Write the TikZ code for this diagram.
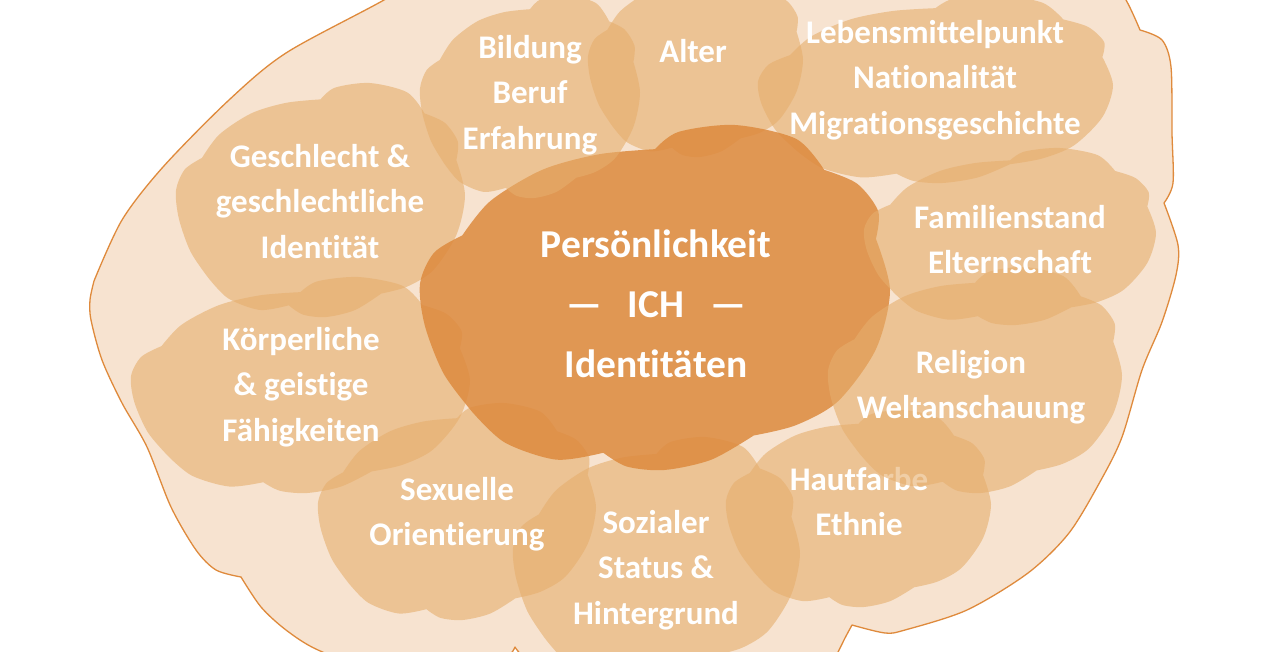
\documentclass[tikz,border=0pt]{standalone}
\usepackage{fontspec}
\setmainfont[Ligatures=NoCommon]{Carlito}
\definecolor{peach}{HTML}{F7E3D0}
\definecolor{edgec}{HTML}{DF8A3C}
\definecolor{cloudc}{HTML}{E6AE6C}
\definecolor{corec}{HTML}{DD8A3E}
\newcommand\lblfont{\fontsize{33}{45.5}\selectfont\bfseries}
\newcommand\corefont{\fontsize{39.5}{60}\selectfont\bfseries}
% soft cloud: x0 y0 (top-left), w/100, h/100, style
\newcommand\softcloud[5]{%
\begin{scope}[shift={(#1,#2)},x=#3pt,y=-#4pt]
\fill[#5] plot[smooth] coordinates {(9,32) (15,22) (26,13) (38,8.5) (50,7)}
 -- plot[smooth] coordinates {(50,7) (55,2) (67,0) (80,4) (86,13)}
 -- plot[smooth] coordinates {(86,13) (93,17) (97.5,25) (97,33)}
 -- plot[smooth] coordinates {(97,33) (100,48) (97,65) (89,80) (80,87) (71,90)}
 -- plot[smooth] coordinates {(71,90) (62,97) (52,100) (44,99) (39,95)}
 -- plot[smooth] coordinates {(39,95) (29,97) (18,92) (11,83)}
 -- plot[smooth] coordinates {(11,83) (5,72) (1,58) (0,46) (3,37) (9,32)}
 -- cycle;
\end{scope}}
\tikzset{
  cloudfill/.style={fill=cloudc, fill opacity=0.6},
  corefill/.style={fill=corec, fill opacity=0.85},
  lbl/.style={text=white, font=\lblfont, align=center, inner sep=0pt, anchor=north},
  corelbl/.style={text=white, font=\corefont, align=center, inner sep=0pt, anchor=north},
}
\begin{document}
\begin{tikzpicture}[x=1pt,y=-1pt]
\useasboundingbox (0,0) rectangle (1280,652);
\fill[white] (0,0) rectangle (1280,652);
\clip (0,0) rectangle (1280,652);
% outer blob
\filldraw[fill=peach, draw=edgec, line width=1.3pt, line join=round]
  plot[smooth] coordinates {(450,-40) (384,0) (286,53) (229,100) (163,167) (122,220) (94,281)}
  -- plot[smooth] coordinates {(94,281) (90,300) (91,320) (102,360) (122,403) (147,447) (171,507) (196,550) (216,570) (241,577)}
  -- plot[smooth] coordinates {(241,577) (261,607) (286,630) (318,650) (380,672) (460,675) (505,658) (515,647)}
  -- plot[smooth] coordinates {(515,647) (540,665) (650,690) (780,685) (830,665) (838,652) (845,638) (852,625)}
  -- plot[smooth] coordinates {(852,625) (885,633) (905,630) (967,610) (1028,573) (1069,533) (1101,480) (1122,437) (1142,370) (1162,322) (1176,275) (1178,245) (1164,203)}
  -- plot[smooth] coordinates {(1164,203) (1173,183) (1172,133) (1171,67) (1162,40) (1140,30)}
  -- plot[smooth] coordinates {(1140,30) (1126,0) (1100,-40)}
  -- cycle;
% back clouds
\softcloud{758}{-5}{3.55}{1.88}{cloudfill}
\softcloud{588}{-30}{2.15}{1.87}{cloudfill}
\softcloud{176}{83}{2.89}{2.34}{cloudfill}
\softcloud{131}{277}{3.39}{2.16}{cloudfill}
\softcloud{318}{403}{2.78}{2.17}{cloudfill}
\softcloud{513}{437}{2.87}{2.42}{cloudfill}
\softcloud{726}{410}{2.65}{1.97}{cloudfill}
% centre cloud
\softcloud{420}{125}{4.70}{3.45}{corefill}
% front clouds
\softcloud{420}{-5}{2.20}{2.03}{cloudfill}
\softcloud{864}{148}{2.92}{1.77}{cloudfill}
\node[lbl] (tHaut) at (859,458.15) {\strut Hautfarbe\\\strut Ethnie};
\softcloud{828}{267}{2.94}{2.26}{cloudfill}
% labels
\node[lbl] (tBild) at (530,26.15) {\strut Bildung\\\strut Beruf\\\strut Erfahrung};
\node[lbl] (tAlter) at (693,30.15) {\strut Alter};
\node[lbl] (tLeben) at (935,11.15) {\strut Lebensmittelpunkt\\\strut Nationalität\\\strut Migrationsgeschichte};
\node[lbl] (tGeschl) at (320,135.15) {\strut Geschlecht \&\\\strut geschlechtliche\\\strut Identität};
\node[corelbl] (tCore) at (656,215) {\strut Persönlichkeit\\\strut —\hspace{26pt}ICH\hspace{26pt}—\\\strut Identitäten};
\node[lbl] (tFam) at (1010,196.15) {\strut Familienstand\\\strut Elternschaft};
\node[lbl] (tKoerp) at (301,318.15) {\strut Körperliche\\\strut \& geistige\\\strut Fähigkeiten};
\node[lbl] (tRel) at (971,341.15) {\strut Religion\\\strut Weltanschauung};
\node[lbl] (tSex) at (457,468.15) {\strut Sexuelle\\\strut Orientierung};
\node[lbl] (tSoz) at (656,501.15) {\strut Sozialer\\\strut Status \&\\\strut Hintergrund};
\end{tikzpicture}
\end{document}
